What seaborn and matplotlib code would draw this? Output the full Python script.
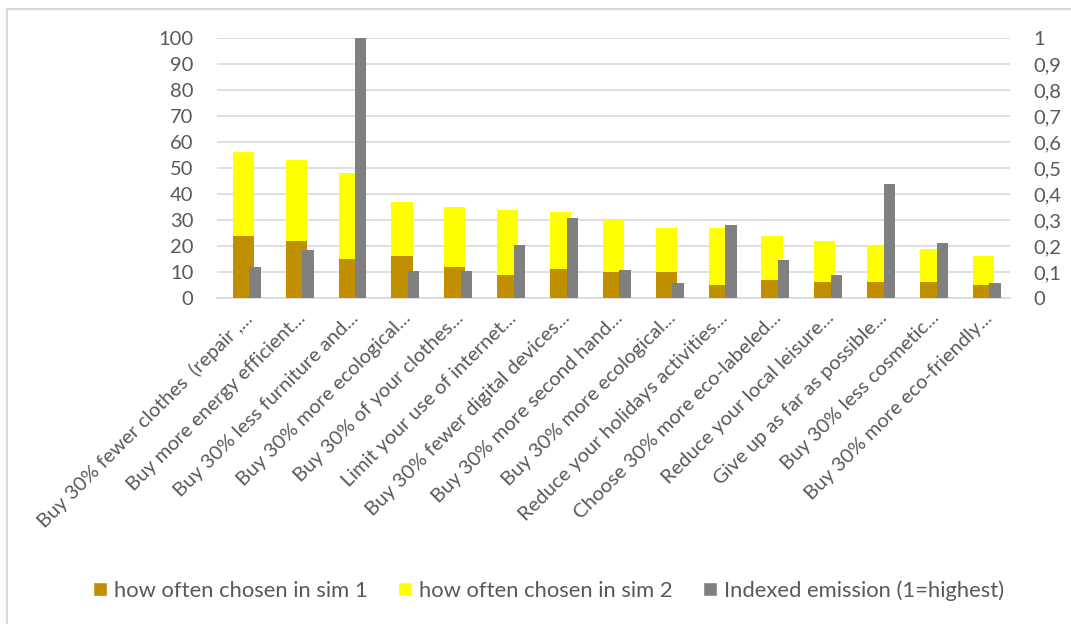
import numpy as np
import pandas as pd
import seaborn as sns
import matplotlib.pyplot as plt
from matplotlib.lines import Line2D
from matplotlib.patches import Patch

# Data
categories = [
    "Buy 30% fewer clothes  (repair ,...",
    "Buy more energy efficient...",
    "Buy 30% less furniture and...",
    "Buy 30% more ecological...",
    "Buy 30% of your clothes...",
    "Limit your use of internet...",
    "Buy 30% fewer digital devices...",
    "Buy 30% more second hand...",
    "Buy 30% more ecological...",
    "Reduce your holidays activities...",
    "Choose 30% more eco-labeled...",
    "Reduce your local leisure...",
    "Give up as far as possible...",
    "Buy 30% less cosmetic...",
    "Buy 30% more eco-friendly...",
]
sim1 = [24, 22, 15, 16, 12, 9, 11, 10, 10, 5, 7, 6, 6, 6, 5]
sim2 = [56, 53, 48, 37, 35, 34, 33, 30, 27, 27, 24, 22, 20, 19, 16]
emission = [0.12, 0.183, 1.0, 0.105, 0.103, 0.205, 0.309, 0.109, 0.058,
            0.282, 0.147, 0.087, 0.437, 0.213, 0.056]

labels = ["how often chosen in sim 1", "how often chosen in sim 2",
          "Indexed emission (1=highest)"]

GOLD = "#BF8F00"
YELLOW = "#FFFF00"
GREY = "#808080"
TEXT = "#595959"
GRID = "#D9D9D9"

sns.set_style("white")
plt.rcParams["font.family"] = ["Lato", "DejaVu Sans"]

pos = np.arange(len(categories))
df = pd.DataFrame({"pos": pos, "sim1": sim1, "sim2": sim2,
                   "emission": emission})

fig = plt.figure(figsize=(10.71, 6.24), dpi=100)
ax = fig.add_axes([0.2026, 0.5224, 0.7404, 0.4167])

# yellow behind, gold in front (same slot)
sns.barplot(data=df, x="pos", y="sim2", native_scale=True, width=0.4,
            color=YELLOW, saturation=1, linewidth=0, ax=ax, zorder=2)
sns.barplot(data=df, x="pos", y="sim1", native_scale=True, width=0.4,
            color=GOLD, saturation=1, linewidth=0, ax=ax, zorder=3)

# emission on secondary axis, shifted right of the sim bars
ax2 = ax.twinx()
df["pos_em"] = df["pos"] + 0.22
sns.barplot(data=df, x="pos_em", y="emission", native_scale=True,
            width=0.215, color=GREY, saturation=1, linewidth=0, ax=ax2,
            zorder=3)

ax.set_xlim(-0.5, len(categories) - 0.5)
ax.set_ylim(0, 100)
ax2.set_ylim(0, 1)
ax.set_yticks(np.arange(0, 101, 10))
right_ticks = np.arange(0, 1.01, 0.1)
ax2.set_yticks(right_ticks)
ax2.set_yticklabels(["0" if v == 0 else ("1" if v == 1 else f"{v:.1f}".replace(".", ","))
                     for v in right_ticks])

ax.set_xticks(pos)
ax.set_xticklabels(categories, rotation=45, ha="right",
                   rotation_mode="anchor", fontsize=14.5, color=TEXT)
ax.set_xlabel("")
ax.set_ylabel("")
ax2.set_ylabel("")
ax2.set_xlabel("")

ax.tick_params(axis="y", length=0, pad=17, labelsize=14.5, labelcolor=TEXT)
ax2.tick_params(axis="y", length=0, pad=17, labelsize=14.5, labelcolor=TEXT)
ax.tick_params(axis="x", length=0, pad=8)

ax.yaxis.grid(True, color=GRID, linewidth=1.2)
ax.set_axisbelow(True)
for a in (ax, ax2):
    for s in a.spines.values():
        s.set_visible(False)
ax.spines["bottom"].set_visible(True)
ax.spines["bottom"].set_color(GRID)
ax.spines["bottom"].set_linewidth(1.2)

handles = [Patch(facecolor=GOLD), Patch(facecolor=YELLOW), Patch(facecolor=GREY)]
fig.legend(handles, labels, loc="center", bbox_to_anchor=(0.512, 0.054),
           ncol=3, frameon=False, fontsize=15.8, labelcolor=TEXT,
           handlelength=0.64, handleheight=0.64, handletextpad=0.3,
           columnspacing=1.4, borderpad=0, borderaxespad=0)

# chart area border (left and top edges visible)
fig.add_artist(Line2D([7 / 1071, 7 / 1071], [0, 1 - 9 / 624],
                      transform=fig.transFigure, color=GRID, linewidth=1.5))
fig.add_artist(Line2D([7 / 1071, 1], [1 - 9 / 624, 1 - 9 / 624],
                      transform=fig.transFigure, color=GRID, linewidth=1.5))

fig.savefig("out.png", dpi=100)
